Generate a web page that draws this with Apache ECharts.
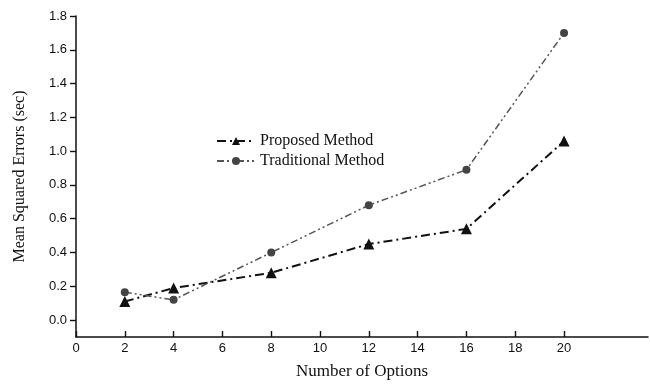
<!DOCTYPE html>
<html>
<head>
<meta charset="utf-8">
<script src="https://cdn.jsdelivr.net/npm/echarts@6/dist/echarts.min.js"></script>
<style>
  html, body { margin: 0; padding: 0; background: #fff; }
  #chart { width: 650px; height: 386px; }
</style>
</head>
<body>
<div id="chart"></div>
<script>
// Number of options on the x axis
const options = [2, 4, 8, 12, 16, 20];
// Mean squared errors (sec) per method
const proposed = [0.11, 0.19, 0.28, 0.45, 0.54, 1.06];
const traditional = [0.165, 0.12, 0.40, 0.68, 0.89, 1.70];
// Tick ranges: x ticks 0..20 step 2, y ticks 0.0..1.8 step 0.2
const xTickMax = 20;
const yTickMax = 1.8;

const pair = (xs, ys) => xs.map((x, i) => [x, ys[i]]);

const chart = echarts.init(document.getElementById('chart'), null, { renderer: 'canvas' });
const serif = '"Liberation Serif", "DejaVu Serif", serif';
const sans = '"Liberation Sans", Arial, sans-serif';
// invisible axis line for the tick-only frame (ticks are drawn along it)
const hiddenLine = { show: true, onZero: false, lineStyle: { color: 'rgba(0,0,0,0)', width: 0 } };
const tickStyle = { color: '#111', width: 1.4 };

chart.setOption({
  backgroundColor: '#ffffff',
  animation: false,
  grid: [
    // plotting area: x runs past 20 to the right edge, y starts at -0.1
    { left: 76, right: 2, top: 16, bottom: 49, containLabel: false, outerBoundsMode: 'none' },
    // tick/label frame: 0..20 horizontally, 0.0..1.8 vertically
    { left: 76, right: 86, top: 16, bottom: 66, containLabel: false, outerBoundsMode: 'none' }
  ],
  legend: {
    orient: 'vertical',
    left: 211,
    top: 128,
    itemGap: 4,
    itemWidth: 38,
    itemHeight: 10,
    textStyle: { fontFamily: serif, fontSize: 16, color: '#111' },
    data: ['Proposed Method', 'Traditional Method']
  },
  xAxis: [
    {
      gridIndex: 0,
      type: 'value',
      min: 0,
      max: 23.44,
      name: 'Number of Options',
      nameLocation: 'middle',
      nameGap: 26,
      nameTextStyle: { fontFamily: serif, fontSize: 17, color: '#111' },
      axisLine: { show: true, onZero: false, lineStyle: { color: '#111', width: 1.5 } },
      axisTick: { show: false },
      axisLabel: { show: false },
      splitLine: { show: false }
    },
    {
      gridIndex: 1,
      type: 'value',
      min: 0,
      max: xTickMax,
      interval: 2,
      offset: 17,
      axisLine: hiddenLine,
      axisTick: { show: true, inside: true, length: 6, lineStyle: tickStyle },
      axisLabel: { show: true, fontFamily: sans, fontSize: 13, color: '#111', margin: 5 },
      splitLine: { show: false }
    }
  ],
  yAxis: [
    {
      gridIndex: 0,
      type: 'value',
      min: -0.1,
      max: 1.8,
      name: 'Mean Squared Errors (sec)',
      nameLocation: 'middle',
      nameGap: 48,
      nameRotate: 90,
      nameTextStyle: { fontFamily: serif, fontSize: 16, color: '#111' },
      axisLine: { show: true, onZero: false, lineStyle: { color: '#111', width: 1.5 } },
      axisTick: { show: false },
      axisLabel: { show: false },
      splitLine: { show: false }
    },
    {
      gridIndex: 1,
      type: 'value',
      min: 0,
      max: yTickMax,
      interval: 0.2,
      axisLine: hiddenLine,
      axisTick: { show: true, inside: false, length: 6, lineStyle: tickStyle },
      axisLabel: {
        show: true,
        fontFamily: sans, fontSize: 13, color: '#111', margin: 9,
        formatter: v => v.toFixed(1)
      },
      splitLine: { show: false }
    }
  ],
  series: [
    {
      name: 'Proposed Method',
      type: 'line',
      xAxisIndex: 0,
      yAxisIndex: 0,
      data: pair(options, proposed),
      symbol: 'triangle',
      symbolSize: 11,
      itemStyle: { color: '#111' },
      lineStyle: { color: '#111', width: 2, type: [9, 4, 2, 4] }
    },
    {
      name: 'Traditional Method',
      type: 'line',
      xAxisIndex: 0,
      yAxisIndex: 0,
      data: pair(options, traditional),
      symbol: 'circle',
      symbolSize: 8,
      itemStyle: { color: '#444' },
      lineStyle: { color: '#555', width: 1.5, type: [7, 3, 2, 3, 2, 3] }
    }
  ]
});
</script>
</body>
</html>
